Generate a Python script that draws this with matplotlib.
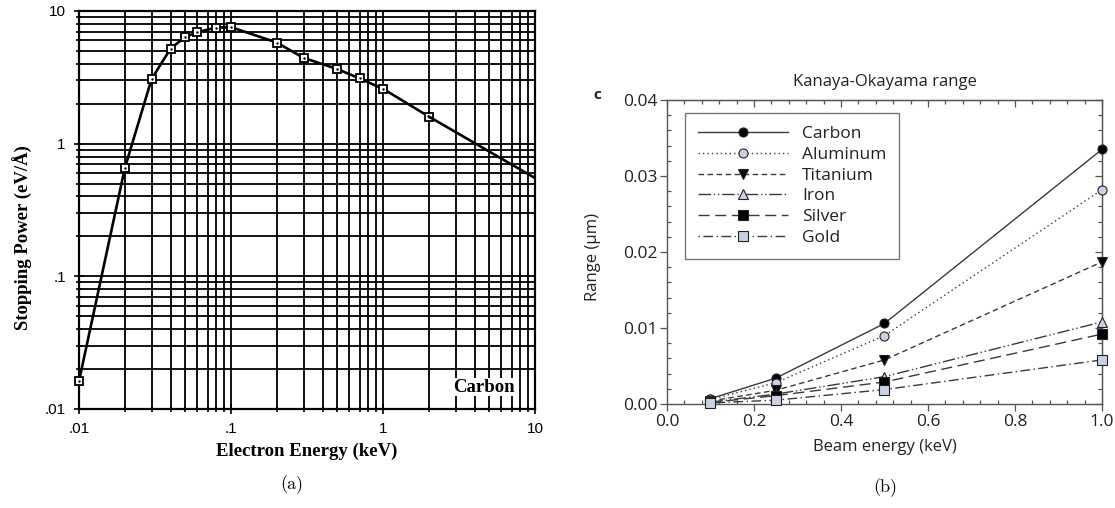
import matplotlib
matplotlib.use("Agg")
import matplotlib.pyplot as plt
from matplotlib.ticker import (FixedLocator, FixedFormatter, LogLocator,
                               NullFormatter, MultipleLocator, FormatStrFormatter)

# ── (a) stopping power of carbon ─────────────────────────────────────────────
energy_a   = [0.01, 0.02, 0.03, 0.04, 0.05, 0.06, 0.08, 0.1,
              0.2, 0.3, 0.5, 0.7, 1.0, 2.0]
stopping_a = [0.0163, 0.653, 3.07, 5.21, 6.38, 6.92, 7.5, 7.55,
              5.78, 4.43, 3.65, 3.10, 2.59, 1.60]
tail_energy   = [2.0, 10.0]
tail_stopping = [1.60, 0.55]
xticks_a  = [0.01, 0.1, 1, 10]
xlabels_a = [".01", ".1", "1", "10"]
yticks_a  = [0.01, 0.1, 1, 10]
ylabels_a = [".01", ".1", "1", "10"]

# ── (b) Kanaya-Okayama range ─────────────────────────────────────────────────
beam_energy = [0.1, 0.25, 0.5, 1.0]
carbon   = [0.0007, 0.0034, 0.0106, 0.0335]
aluminum = [0.0006, 0.0028, 0.0090, 0.0282]
titanium = [0.0004, 0.0018, 0.0058, 0.0187]
iron     = [0.00025, 0.0013, 0.0036, 0.0108]
silver   = [0.0002, 0.0011, 0.0029, 0.0092]
gold     = [0.00015, 0.0005, 0.0019, 0.0058]
names    = ["Carbon", "Aluminum", "Titanium", "Iron", "Silver", "Gold"]

LIGHT = "#c9d2e3"
LINE  = "#3a3a3a"
SERIF = "Liberation Serif"
SANS  = "Open Sans"

plt.rcParams["font.family"] = SANS

fig = plt.figure(figsize=(11.15, 5.08), dpi=100)

# ── panel (a) ────────────────────────────────────────────────────────────────
ax = fig.add_axes([0.0709, 0.1949, 0.4090, 0.7835])
ax.set_xscale("log")
ax.set_yscale("log")
ax.set_xlim(0.01, 10)
ax.set_ylim(0.01, 10)

ax.plot(energy_a, stopping_a, color="k", lw=1.9, zorder=4, clip_on=False,
        marker="s", ms=5.5, mfc="white", mec="k", mew=1.3)
ax.plot(energy_a, stopping_a, ls="none", marker=".", ms=1.5, color="k",
        zorder=5, clip_on=False)
ax.plot(tail_energy, tail_stopping, color="k", lw=1.9, zorder=4)

ax.xaxis.set_major_locator(FixedLocator(xticks_a))
ax.xaxis.set_major_formatter(FixedFormatter(xlabels_a))
ax.yaxis.set_major_locator(FixedLocator(yticks_a))
ax.yaxis.set_major_formatter(FixedFormatter(ylabels_a))
for axis in (ax.xaxis, ax.yaxis):
    axis.set_minor_locator(LogLocator(base=10, subs=range(2, 10), numticks=20))
    axis.set_minor_formatter(NullFormatter())

ax.grid(which="both", color="#000000", lw=1.3, zorder=1)
ax.tick_params(which="both", direction="inout", width=1.2, color="k",
               labelfontfamily="Liberation Sans", labelsize=11)
ax.tick_params(which="major", length=7, pad=6)
ax.tick_params(which="minor", length=5)
for sp in ax.spines.values():
    sp.set_linewidth(1.6)

ax.set_xlabel("Electron Energy (keV)", family=SERIF, fontweight="bold", fontsize=13.5)
ax.set_ylabel("Stopping Power (eV/Å)", family=SERIF, fontweight="bold", fontsize=13.5)
ax.xaxis.set_label_coords(0.5, -0.085)
ax.yaxis.set_label_coords(-0.1, 0.43)

ax.text(0.956, 0.055, "Carbon", transform=ax.transAxes, ha="right", va="center",
        family=SERIF, fontweight="bold", fontsize=13.5, zorder=6,
        bbox=dict(fc="white", ec="none", pad=0.5))

fig.text(292 / 1115, 1 - 485 / 508, "(a)", family="cmr10", fontsize=13,
         ha="center", va="center")

# ── panel (b) ────────────────────────────────────────────────────────────────
bx = fig.add_axes([0.5982, 0.2047, 0.3901, 0.5984])
bx.set_xlim(0, 1.0)
bx.set_ylim(0, 0.04)

series = [carbon, aluminum, titanium, iron, silver, gold]
styles = [
    dict(ls="-", marker="o", mfc="k"),
    dict(ls=(0, (1, 2.2)), marker="o", mfc=LIGHT),
    dict(ls=(0, (4, 2.5)), marker="v", mfc="k"),
    dict(ls=(0, (9, 2, 1, 2, 1, 2)), marker="^", mfc=LIGHT),
    dict(ls=(0, (8, 4)), marker="s", mfc="k"),
    dict(ls=(0, (1, 2.5, 7, 2.5)), marker="s", mfc=LIGHT),
]
for vals, name, st in zip(series, names, styles):
    bx.plot(beam_energy, vals, color=LINE, lw=1.0, ms=6.5, mec="#222222",
            mew=0.8, label=name, clip_on=False, zorder=4, **st)

bx.xaxis.set_major_locator(MultipleLocator(0.2))
bx.xaxis.set_minor_locator(MultipleLocator(0.04))
bx.yaxis.set_major_locator(MultipleLocator(0.01))
bx.yaxis.set_minor_locator(MultipleLocator(0.002))
bx.xaxis.set_major_formatter(FormatStrFormatter("%.1f"))
bx.yaxis.set_major_formatter(FormatStrFormatter("%.2f"))
bx.tick_params(which="both", colors="#555555", labelcolor="#222222",
               labelsize=12.5, width=0.9)
bx.tick_params(which="major", length=5, direction="out", pad=2)
bx.tick_params(which="minor", length=3, direction="in")
for sp in bx.spines.values():
    sp.set_color("#555555")
    sp.set_linewidth(1.0)

# inward ticks on top and right
tx = bx.secondary_xaxis("top")
tx.xaxis.set_major_locator(MultipleLocator(0.2))
tx.xaxis.set_minor_locator(MultipleLocator(0.04))
tx.tick_params(which="both", direction="in", colors="#555555", labeltop=False, width=0.9)
tx.tick_params(which="major", length=5)
tx.tick_params(which="minor", length=3)
ty = bx.secondary_yaxis("right")
ty.yaxis.set_major_locator(MultipleLocator(0.01))
ty.yaxis.set_minor_locator(MultipleLocator(0.002))
ty.tick_params(which="both", direction="in", colors="#555555", labelright=False, width=0.9)
ty.tick_params(which="major", length=5)
ty.tick_params(which="minor", length=3)

bx.set_xlabel("Beam energy (keV)", fontsize=12, color="#222222")
bx.set_ylabel("Range (µm)", fontsize=12, color="#222222")
bx.xaxis.set_label_coords(0.5, -0.115)
bx.yaxis.set_label_coords(-0.152, 0.484)
bx.text(0.5, 1 + 18 / 304, "Kanaya-Okayama range", transform=bx.transAxes,
        ha="center", va="center", fontsize=12, color="#222222")

leg = bx.legend(loc="upper left", bbox_to_anchor=(0.041, 0.957), borderaxespad=0,
                fontsize=12.5, handlelength=5.2, handletextpad=0.8, labelspacing=0.26,
                borderpad=0.75, fancybox=False, frameon=True, numpoints=1)
leg.get_frame().set_edgecolor("#555555")
leg.get_frame().set_linewidth(1.0)
for t in leg.get_texts():
    t.set_color("#222222")

fig.text(597 / 1115, 1 - 95 / 508, "c", fontsize=11, fontweight="bold",
         ha="center", va="center", color="#222222")
fig.text(885 / 1115, 1 - 488 / 508, "(b)", family="cmr10", fontsize=13,
         ha="center", va="center")

fig.savefig("out.png", dpi=100)
